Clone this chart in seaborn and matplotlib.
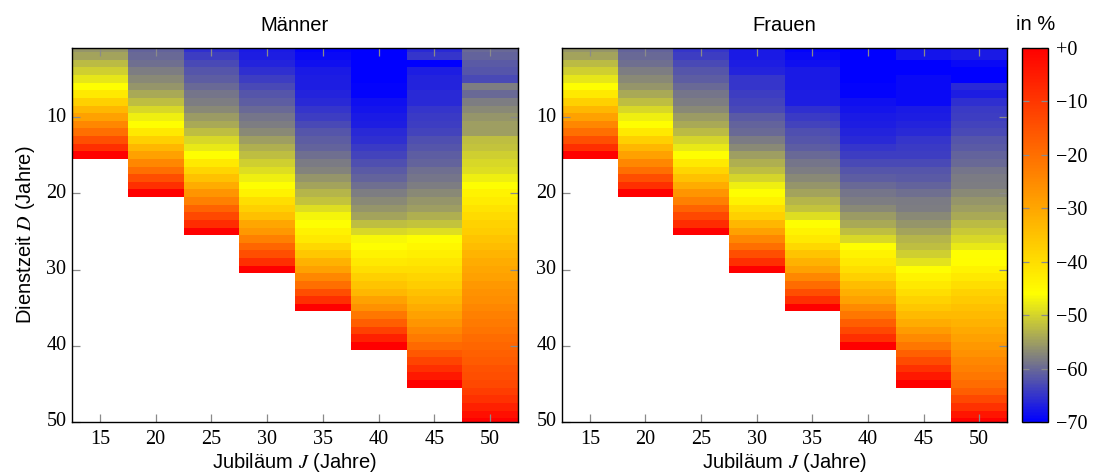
import numpy as np
import pandas as pd
import matplotlib
matplotlib.use("Agg")
import matplotlib.pyplot as plt
import seaborn as sns
from matplotlib.colors import LinearSegmentedColormap

# ---------------- data ----------------
jubilaeen = [15, 20, 25, 30, 35, 40, 45, 50]
dienstzeit = list(range(1, 51))
cbar_ticks = [-70, -60, -50, -40, -30, -20, -10, 0]
cbar_labels = ["\u221270", "\u221260", "\u221250", "\u221240", "\u221230", "\u221220", "\u221210", "+0"]

# Maenner: value in % for Dienstzeit D = 1 .. J
m15 = [-56, -54.5, -52.5, -50.5, -48.2, -46, -42, -37.5, -33, -29, -24.5, -20, -14.4, -8.7, 0]
m20 = [-60.5, -60, -59.5, -58, -57, -56, -54, -52, -49.5, -47.5, -46, -42, -37.5, -33, -29,
       -24.5, -20, -14, -8.7, 0]
m25 = [-65.5, -64, -63, -62, -61, -60, -59, -58, -57, -55.5, -54, -52, -49.5, -48, -46,
       -42, -38.5, -35, -31, -27, -23, -18, -13, -8, 0]
m30 = [-67.5, -67, -66.5, -65.5, -64, -63, -62, -61, -60, -59, -58, -57, -55, -53.5, -52,
       -50.5, -49, -47.5, -46, -43.5, -40, -37.5, -34.5, -30, -27.5, -23, -18.5, -14, -8.7, 0]
m35 = [-69.5, -69, -68.5, -67.5, -67, -67, -66.5, -66, -65, -64, -63, -62, -61, -60.5, -59.5,
       -58.5, -57.5, -56, -54.5, -53, -51.5, -49, -47, -46, -43.5, -42, -39, -36, -32, -29,
       -24.5, -20, -14, -8.5, 0]
m40 = [-70, -70, -70, -70, -70, -69.5, -69.5, -68.5, -68, -67.5, -67, -66, -65.5, -64.5, -63.5,
       -62.5, -61.5, -60.5, -59.5, -58, -57, -56, -54.5, -52, -49.5, -46.5, -46, -44, -42, -40,
       -37.5, -35.5, -33, -29, -26, -21.5, -17, -11.5, -6, 0]
m45 = [-66, -65, -70, -67, -66.5, -66.5, -66, -66, -65, -64.5, -64, -63.5, -62.5, -62, -61,
       -60.5, -59.5, -59, -58, -57, -56, -55, -53.5, -51.5, -49, -46, -44.5, -43, -41.5, -40,
       -38.5, -37, -35, -33, -31, -29, -27, -24.5, -22, -19, -16, -12.5, -8.5, -4.5, 0]
m50 = [-60, -60.5, -61.5, -62, -63, -58, -60, -58, -57, -56, -55, -55, -52, -51.5, -50.5,
       -49.5, -49, -47.5, -46, -44, -42.5, -41, -39.5, -38, -37, -35.5, -34, -32.5, -31, -30,
       -29, -27.5, -26.5, -25.5, -24.5, -23, -22, -21, -19.5, -18.5, -17.5, -16.5, -15, -14, -13,
       -11, -9, -6, -3, 0]

# Frauen
f15 = [-56, -54.5, -52.5, -50.5, -48.2, -46, -42, -37.5, -33, -29, -24.5, -20, -14.4, -8.7, 0]
f20 = [-60.5, -60, -59.5, -58, -57, -56, -54, -52, -49.5, -47.5, -46, -42, -37.5, -33, -29,
       -24.5, -20, -14, -8.7, 0]
f25 = [-65, -64, -63, -62, -61, -60, -59, -58, -57, -55.5, -54, -52.5, -50, -48, -46,
       -42, -38.5, -35, -31, -27, -23, -18, -13, -8, 0]
f30 = [-67.5, -67.5, -67, -66.5, -65, -65, -64, -63.5, -63, -61.5, -60.5, -60, -58.5, -57, -55,
       -53.5, -52, -50, -47.5, -46, -43.5, -40, -37.5, -33, -29, -24.5, -20, -14, -8.7, 0]
f35 = [-69.5, -69, -68.5, -67.5, -67.5, -67.5, -67, -67, -65.5, -64.5, -63.5, -62.5, -62, -61, -60,
       -59, -58, -57, -56, -54.5, -53, -51.5, -49, -46, -44, -42, -39, -35.5, -32, -29,
       -24.5, -19.5, -14, -8.5, 0]
f40 = [-70, -70, -70, -70, -70, -69.5, -69.5, -68.5, -68, -67.5, -67, -66.5, -66, -65, -64,
       -63, -62, -61, -60, -59, -58, -57, -55.5, -54, -52, -49.5, -46, -44, -42, -40,
       -37.5, -34, -31.5, -29, -25, -21.5, -17, -13, -8.7, 0]
f45 = [-68, -68, -70, -70, -69, -69, -69, -69, -67.5, -67, -66.5, -66, -65, -64.5, -64,
       -63, -62, -61.5, -60.5, -59.5, -58.5, -58, -57, -56, -54.5, -53, -52, -50.5, -48.5, -46,
       -44, -42, -40, -38, -36, -33.5, -31, -28, -25, -21.5, -17.5, -13.5, -9, -4.5, 0]
f50 = [-67.5, -67.5, -69, -70, -70, -66, -67, -65.5, -64.5, -64, -63.5, -63, -62, -61.5, -60.5,
       -60, -59, -58.5, -58, -57, -56, -55, -54, -52.5, -51, -49.5, -48, -46, -45.5, -44,
       -42, -40, -38, -36.5, -35, -33.5, -32, -30.5, -29, -27.5, -26, -24.5, -23, -21.5, -19.5,
       -17, -13, -9, -4, 0]

maenner = [m15, m20, m25, m30, m35, m40, m45, m50]
frauen = [f15, f20, f25, f30, f35, f40, f45, f50]


def build(cols):
    mat = np.full((len(dienstzeit), len(jubilaeen)), np.nan)
    for j, vals in enumerate(cols):
        mat[:len(vals), j] = vals
    return pd.DataFrame(mat, index=dienstzeit, columns=jubilaeen)


df_m = build(maenner)
df_f = build(frauen)

# ---------------- style ----------------
plt.rcParams["mathtext.fontset"] = "stix"
SANS = "Liberation Sans"
SERIF = "Liberation Serif"
FS = 14.5
TFS = 14.5

cmap = LinearSegmentedColormap.from_list(
    "jub",
    [(0.0, (0, 0, 1)),
     (12 / 70, (0.5, 0.5, 0.5)),
     (24 / 70, (1, 1, 0)),
     (1.0, (1, 0, 0))])

W, H = 1095, 476
fig = plt.figure(figsize=(W / 100, H / 100), dpi=100)


def rect(l, t, r, b):
    return [l / W, 1 - b / H, (r - l) / W, (b - t) / H]


ax1 = fig.add_axes(rect(72, 48, 518, 422))
ax2 = fig.add_axes(rect(562, 48, 1007, 422))
cax = fig.add_axes(rect(1022, 48, 1048, 422))

sns.heatmap(df_m, ax=ax1, cmap=cmap, vmin=-70, vmax=0, cbar=False)
sns.heatmap(df_f, ax=ax2, cmap=cmap, vmin=-70, vmax=0, cbar=True, cbar_ax=cax)

yt = [10, 20, 30, 40, 50]
for ax, title in [(ax1, "Männer"), (ax2, "Frauen")]:
    ax.set_xlim(0, len(jubilaeen))
    ax.set_ylim(49.5, 0.45)
    ax.set_xticks([i + 0.5 for i in range(len(jubilaeen))])
    ax.set_xticklabels([str(j) for j in jubilaeen], rotation=0,
                       fontsize=FS, family=SERIF)
    ax.set_yticks([d - 0.5 for d in yt])
    ax.set_yticklabels([str(d) for d in yt], rotation=0,
                       fontsize=FS, family=SERIF)
    ax.tick_params(direction="in", top=True, right=True, bottom=True, left=True,
                   length=6, width=0.9, color="#8a8a8a")
    ax.tick_params(axis="x", pad=6)
    ax.tick_params(axis="y", pad=4)
    for s in ax.spines.values():
        s.set_visible(True)
        s.set_color("black")
        s.set_linewidth(1.0)
    ax.set_title(title, fontsize=TFS, family=SANS, pad=12)
    ax.set_xlabel("Jubiläum $J$ (Jahre)", fontsize=TFS, family=SANS, labelpad=1.5)
    ax.set_ylabel("")

ax1.set_ylabel("Dienstzeit $D$ (Jahre)", fontsize=TFS, family=SANS, labelpad=7)

cb = ax2.collections[0].colorbar
cb.set_ticks(cbar_ticks)
cb.set_ticklabels(cbar_labels)
for lab in cax.get_yticklabels():
    lab.set_family(SERIF)
    lab.set_fontsize(FS)
cax.tick_params(direction="in", left=True, right=True, length=5, width=0.9,
                color="#8a8a8a", pad=6)
cb.outline.set_edgecolor("black")
cb.outline.set_linewidth(1.0)

fig.text(1036 / W, 1 - 25 / H, "in %", ha="center", va="center",
         fontsize=TFS, family=SANS)

fig.savefig("out.png", dpi=100)
